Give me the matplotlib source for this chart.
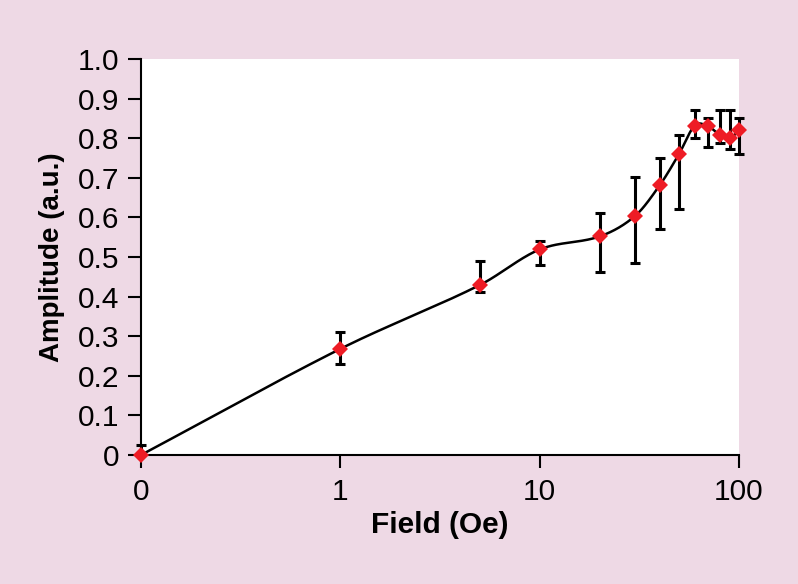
import numpy as np
import matplotlib
matplotlib.use("Agg")
import matplotlib.pyplot as plt

# ---- data ----
field = [0, 1, 5, 10, 20, 30, 40, 50, 60, 70, 80, 90, 100]
amplitude = [0.0, 0.268, 0.429, 0.519, 0.552, 0.603, 0.681, 0.760, 0.832, 0.830, 0.809, 0.800, 0.820]
err_upper = [0.025, 0.310, 0.489, 0.540, 0.610, 0.703, 0.750, 0.809, 0.871, 0.851, 0.871, 0.871, 0.851]
err_lower = [0.0, 0.230, 0.411, 0.480, 0.462, 0.484, 0.571, 0.620, 0.800, 0.779, 0.789, 0.772, 0.761]
xtick_vals = [0, 1, 10, 100]
xtick_labels = ["0", "1", "10", "100"]
ytick_vals = [0.0, 0.1, 0.2, 0.3, 0.4, 0.5, 0.6, 0.7, 0.8, 0.9, 1.0]
ytick_labels = ["0", "0.1", "0.2", "0.3", "0.4", "0.5", "0.6", "0.7", "0.8", "0.9", "1.0"]

BG = "#EED9E5"

def fwd(x):
    x = np.asarray(x, dtype=float)
    with np.errstate(divide="ignore", invalid="ignore"):
        return np.where(x < 1, x - 1.0, np.log10(np.maximum(x, 1e-12)))

def inv(u):
    u = np.asarray(u, dtype=float)
    return np.where(u < 0, u + 1.0, 10.0 ** u)

def catmull_rom(xk, yk, npts=40):
    xk = np.asarray(xk, float); yk = np.asarray(yk, float)
    n = len(xk)
    m = np.empty(n)
    m[0] = (yk[1] - yk[0]) / (xk[1] - xk[0])
    m[-1] = (yk[-1] - yk[-2]) / (xk[-1] - xk[-2])
    for i in range(1, n - 1):
        m[i] = (yk[i + 1] - yk[i - 1]) / (xk[i + 1] - xk[i - 1])
    xs, ys = [], []
    for i in range(n - 1):
        h = xk[i + 1] - xk[i]
        t = np.linspace(0, 1, npts, endpoint=(i == n - 2))
        h00 = 2 * t**3 - 3 * t**2 + 1
        h10 = t**3 - 2 * t**2 + t
        h01 = -2 * t**3 + 3 * t**2
        h11 = t**3 - t**2
        xs.append(xk[i] + t * h)
        ys.append(h00 * yk[i] + h10 * h * m[i] + h01 * yk[i + 1] + h11 * h * m[i + 1])
    return np.concatenate(xs), np.concatenate(ys)

plt.rcParams["font.family"] = ["Liberation Sans", "DejaVu Sans"]

fig = plt.figure(figsize=(7.98, 5.84), dpi=100, facecolor=BG)
ax = fig.add_axes([141 / 798, 1 - 455 / 584, (739 - 141) / 798, (455 - 59) / 584])
ax.set_facecolor("white")
ax.set_xscale("function", functions=(fwd, inv))

u = fwd(field)
us, ys = catmull_rom(u, amplitude)
ax.plot(inv(us), ys, color="black", lw=1.8, zorder=2, clip_on=False)

amp = np.array(amplitude)
yerr = np.vstack([amp - np.array(err_lower), np.array(err_upper) - amp])
eb = ax.errorbar(field, amplitude, yerr=yerr, fmt="none", ecolor="black",
                 elinewidth=2.2, capsize=3.4, capthick=2.2, zorder=3)
for artist in eb.lines[1] + eb.lines[2]:
    artist.set_clip_on(False)
ax.plot(field, amplitude, linestyle="none", marker="D", color="#EE1C25",
        markersize=8.5, markeredgewidth=0, zorder=4, clip_on=False)

ax.set_xlim(0, 100)
ax.set_ylim(0, 1.0)
ax.set_xticks(xtick_vals)
ax.set_xticklabels(xtick_labels)
ax.set_yticks(ytick_vals)
ax.set_yticklabels(ytick_labels)
ax.minorticks_off()
ax.tick_params(axis="both", direction="out", length=9.5, width=1.5, labelsize=21.5)
ax.tick_params(axis="x", pad=7)
ax.tick_params(axis="y", pad=6)
for s in ["top", "right"]:
    ax.spines[s].set_visible(False)
for s in ["left", "bottom"]:
    ax.spines[s].set_linewidth(1.5)
ax.set_xlabel("Field (Oe)", fontsize=21.5, fontweight="bold", labelpad=4)
ax.set_ylabel("Amplitude (a.u.)", fontsize=20, fontweight="bold", labelpad=9)

fig.savefig("out.png", dpi=100, facecolor=BG)
